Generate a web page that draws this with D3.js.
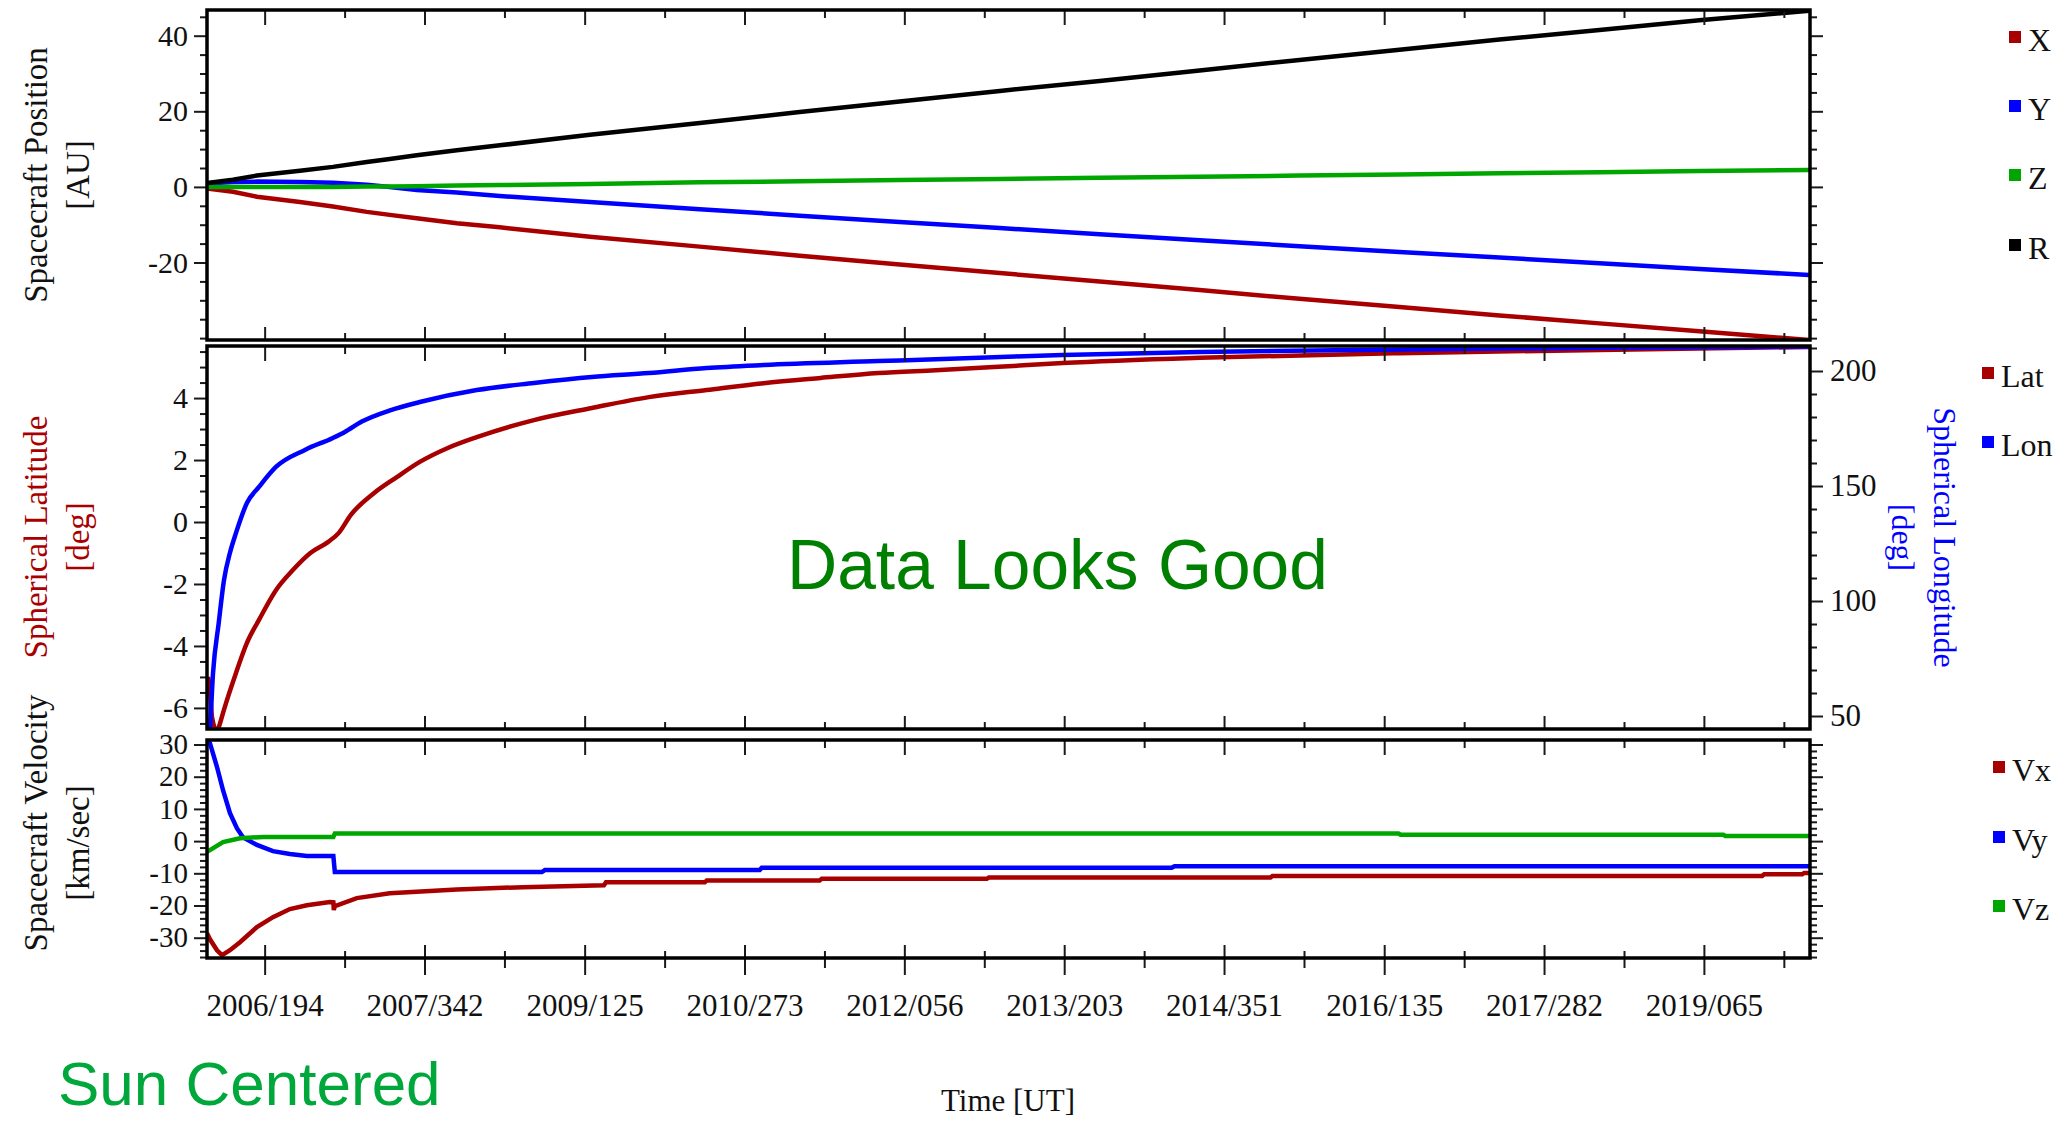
<!DOCTYPE html>
<html>
<head>
<meta charset="utf-8">
<script src="https://cdn.jsdelivr.net/npm/d3@7"></script>
<style>
    body { margin: 0; background: #fff; }
    svg { display: block; }
</style>
</head>
<body>
<div id="chart"></div>
<script>

// ---------- data (time in decimal years) ----------

let xTickLabels = ["2006/194", "2007/342", "2009/125", "2010/273", "2012/056",
                   "2013/203", "2014/351", "2016/135", "2017/282", "2019/065"];

// panel 1: spacecraft position [AU]
let posNames = ["X", "Y", "Z", "R"];
let posTicks = [40, 20, 0, -20];
let posTimes = [2006.022, 2006.250, 2006.461, 2006.839, 2007.129, 2007.427, 2007.629, 2007.866,
                2008.218, 2008.595, 2009.386, 2010.352, 2011.230, 2012.109, 2012.987, 2013.865,
                2014.744, 2015.622, 2016.500, 2017.378, 2018.257, 2019.135, 2020.101];
let posX = [-0.4, -1.3, -2.6, -4.0, -5.2, -6.6, -7.4, -8.3, -9.6, -10.7, -13.2, -15.8,
            -18.2, -20.5, -22.8, -25.0, -27.3, -29.6, -31.8, -34.0, -36.1, -38.2, -40.5];
let posY = [0.9, 1.3, 1.4, 1.3, 1.1, 0.6, 0.0, -0.8, -1.5, -2.4, -4.0, -5.9,
            -7.6, -9.3, -10.9, -12.5, -14.1, -15.7, -17.2, -18.7, -20.2, -21.7, -23.3];
let posZ = [0.0, 0.0, 0.0, 0.0, 0.0, 0.1, 0.1, 0.2, 0.4, 0.5, 0.8, 1.2,
            1.5, 1.8, 2.1, 2.4, 2.7, 3.0, 3.3, 3.6, 3.9, 4.2, 4.5];
let posR = [1.0, 1.9, 3.0, 4.3, 5.3, 6.6, 7.4, 8.4, 9.7, 11.0, 13.8, 16.9,
            19.8, 22.6, 25.4, 28.0, 30.8, 33.6, 36.3, 39.0, 41.5, 44.1, 46.6];

// panel 2: spherical latitude / longitude [deg]
let angleNames = ["Lat", "Lon"];
let latTicks = [4, 2, 0, -2, -4, -6];
let lonTicks = [200, 150, 100, 50];
let latTimes = [2006.031, 2006.048, 2006.066, 2006.110, 2006.136, 2006.171, 2006.277, 2006.373,
                2006.479, 2006.628, 2006.777, 2006.931, 2007.085, 2007.181, 2007.287, 2007.489,
                2007.691, 2007.893, 2008.139, 2008.393, 2008.894, 2009.403, 2009.904, 2010.413,
                2010.914, 2011.414, 2011.924, 2012.425, 2012.934, 2013.540, 2014.744, 2016.500,
                2018.257, 2020.101];
let latValues = [-5.0, -5.4, -6.3, -6.75, -6.5, -6.06, -4.87, -3.9, -3.16, -2.2, -1.55, -1.0,
                 -0.65, -0.35, 0.23, 0.93, 1.45, 1.94, 2.39, 2.74, 3.29, 3.68, 4.03, 4.26,
                 4.48, 4.65, 4.81, 4.9, 5.0, 5.13, 5.3, 5.45, 5.55, 5.65];
let lonTimes = [2006.026, 2006.048, 2006.075, 2006.125, 2006.171, 2006.224, 2006.277, 2006.373,
                2006.479, 2006.628, 2006.883, 2007.129, 2007.234, 2007.383, 2007.638, 2007.893,
                2008.393, 2008.894, 2009.403, 2009.904, 2010.413, 2010.914, 2011.924, 2012.934,
                2013.540, 2014.744, 2016.500, 2018.257, 2020.101];
let lonValues = [38, 45, 68.7, 90.4, 109, 121, 129.6, 142.6, 149.6, 158.3, 165.7, 170.9,
                 173.5, 178, 183, 186.5, 191.7, 194.8, 197.4, 199.1, 201.3, 202.6, 204.3, 206,
                 207, 208.3, 209.4, 210.1, 210.6];

// panel 3: spacecraft velocity [km/sec]
let velNames = ["Vx", "Vy", "Vz"];
let velTicks = [30, 20, 10, 0, -10, -20, -30];
let vxTimes = [2006.022, 2006.048, 2006.110, 2006.154, 2006.224, 2006.312, 2006.461, 2006.602,
               2006.751, 2006.900, 2007.102, 2007.133, 2007.137, 2007.146, 2007.339, 2007.629,
               2008.218, 2008.797, 2009.509, 2009.527, 2010.396, 2010.414, 2011.406, 2011.424,
               2012.873, 2012.891, 2015.367, 2015.385, 2019.688, 2019.706, 2020.040, 2020.057,
               2020.101];
let vxValues = [-28.6, -30.5, -33.9, -35.4, -33.9, -31.4, -26.7, -23.6, -21.1, -19.9, -18.9,
                -19.0, -21.4, -20.2, -17.7, -16.2, -15.0, -14.3, -13.7, -12.8, -12.8, -12.2,
                -12.2, -11.7, -11.7, -11.3, -11.3, -10.8, -10.8, -10.3, -10.3, -9.9, -9.9];
let vyTimes = [2006.022, 2006.048, 2006.110, 2006.163, 2006.224, 2006.285, 2006.338, 2006.461,
               2006.602, 2006.751, 2006.900, 2007.133, 2007.146, 2008.964, 2008.990, 2010.879,
               2010.897, 2014.498, 2014.524, 2020.101];
let vyValues = [31.5, 30.4, 23.0, 15.8, 8.7, 4.0, 1.2, -1.2, -3.1, -4.0, -4.6, -4.6, -9.6,
                -9.6, -9.0, -9.0, -8.3, -8.3, -7.8, -7.8];
let vzTimes = [2006.022, 2006.048, 2006.163, 2006.312, 2006.514, 2007.133, 2007.146, 2016.491,
               2016.509, 2019.346, 2019.363, 2020.101];
let vzValues = [-3.3, -2.8, -0.3, 0.9, 1.3, 1.3, 2.4, 2.4, 2.0, 2.0, 1.6, 1.6];


// ---------- layout ----------

const RED = "#a80000", BLUE = "#0000ff", GREEN = "#00a600", BLACK = "#000000";
const LEFT = 207, RIGHT = 1810;
const SERIF = "'Liberation Serif', 'Times New Roman', serif";
const SANS = "'Liberation Sans', Arial, sans-serif";

let svg = d3.select("#chart").append("svg")
    .attr("width", 2071)
    .attr("height", 1121);

// decimal year -> Date
function toDate(t) {
    let yr = Math.floor(t);
    let a = Date.UTC(yr, 0, 1), b = Date.UTC(yr + 1, 0, 1);
    return new Date(a + (t - yr) * (b - a));
}

let parseDoy = d3.utcParse("%Y/%j");
let fmtDoy = d3.utcFormat("%Y/%j");

let x = d3.scaleUtc()
    .domain([toDate(2006.022), toDate(2020.108)])
    .range([LEFT, RIGHT]);

let xMajor = xTickLabels.map(s => parseDoy(s));
let xStep = (xMajor[xMajor.length - 1] - xMajor[0]) / (xMajor.length - 1);
let xMinor = xMajor.map(d => new Date(+d + xStep / 2)).filter(d => d < x.domain()[1]);

function series(times, values, color, name, side, smooth) {
    return {
        pts: times.map((t, i) => ({ date: toDate(t), v: values[i] })),
        color: color, name: name, side: side || "left", smooth: !!smooth
    };
}

let panels = [
    {
        id: 1, top: 10, bottom: 340, domain: [-40.5, 46.8], ticks: posTicks, minor: 5, fontSize: 30,
        title: ["Spacecraft Position", "[AU]"], titleY: [175, 175], titleColor: "#111",
        series: [series(posTimes, posX, RED, posNames[0]), series(posTimes, posY, BLUE, posNames[1]),
                 series(posTimes, posZ, GREEN, posNames[2]), series(posTimes, posR, BLACK, posNames[3])],
        legendX: 2009, legendY: [37, 106, 175, 245]
    },
    {
        id: 2, top: 346, bottom: 729, domain: [-6.68, 5.68], ticks: latTicks, minor: 0.5, fontSize: 30,
        rightDomain: [44.35, 210.87], rightTicks: lonTicks, rightMinor: 10,
        title: ["Spherical Latitude", "[deg]"], titleY: [537, 537], titleColor: RED,
        rightTitle: ["Spherical Longitude", "[deg]"],
        series: [series(latTimes, latValues, RED, angleNames[0], "left", true),
                 series(lonTimes, lonValues, BLUE, angleNames[1], "right", true)],
        legendX: 1982, legendY: [373, 442]
    },
    {
        id: 3, top: 740, bottom: 958, domain: [-36.3, 31.4], ticks: velTicks, minor: 2, fontSize: 29,
        title: ["Spacecraft Velocity", "[km/sec]"], titleY: [823, 843], titleColor: "#111",
        series: [series(vxTimes, vxValues, RED, velNames[0]), series(vyTimes, vyValues, BLUE, velNames[1]),
                 series(vzTimes, vzValues, GREEN, velNames[2])],
        legendX: 1993, legendY: [767, 837, 906],
        xLabels: true
    }
];

function styleAxis(g, fontSize) {
    g.select(".domain").remove();
    g.attr("font-family", SERIF).attr("font-size", fontSize);
    g.selectAll(".tick line").attr("stroke", "#1a1a1a").attr("stroke-width", 2);
    g.selectAll(".tick text").attr("fill", "#111");
}

function minorValues(domain, step, majors) {
    let lo = Math.ceil(domain[0] / step) * step;
    return d3.range(lo, domain[1], step).filter(v => !majors.some(m => Math.abs(m - v) < 1e-6));
}

function drawPanel(p) {
    let g = svg.append("g").attr("class", "panel-" + p.id);

    let y = d3.scaleLinear().domain(p.domain).range([p.bottom, p.top]);
    let yR = p.rightDomain ? d3.scaleLinear().domain(p.rightDomain).range([p.bottom, p.top]) : null;

    let clipId = "clip" + p.id;
    svg.append("clipPath").attr("id", clipId)
        .append("rect")
        .attr("x", LEFT).attr("y", p.top)
        .attr("width", RIGHT - LEFT).attr("height", p.bottom - p.top);

    // lines
    p.series.forEach(s => {
        let sc = s.side === "right" ? yR : y;
        g.append("path")
            .datum(s.pts)
            .attr("clip-path", "url(#" + clipId + ")")
            .attr("fill", "none")
            .attr("stroke", s.color)
            .attr("stroke-width", 4.5)
            .attr("d", d3.line()
                .curve(s.smooth ? d3.curveMonotoneX : d3.curveLinear)
                .x(d => x(d.date)).y(d => sc(d.v)));
    });

    // left axis: labelled majors + minors
    g.append("g").attr("transform", "translate(" + LEFT + ",0)")
        .call(d3.axisLeft(y).tickValues(p.ticks).tickSize(13).tickPadding(6).tickFormat(d => String(d)))
        .call(a => styleAxis(a, p.fontSize));
    g.append("g").attr("transform", "translate(" + LEFT + ",0)")
        .call(d3.axisLeft(y).tickValues(minorValues(p.domain, p.minor, p.ticks)).tickSize(7).tickFormat(""))
        .call(a => styleAxis(a, p.fontSize));

    // right axis
    if (yR) {
        g.append("g").attr("transform", "translate(" + RIGHT + ",0)")
            .call(d3.axisRight(yR).tickValues(p.rightTicks).tickSize(13).tickPadding(7).tickFormat(d => String(d)))
            .call(a => styleAxis(a, 31));
        g.append("g").attr("transform", "translate(" + RIGHT + ",0)")
            .call(d3.axisRight(yR).tickValues(minorValues(p.rightDomain, p.rightMinor, p.rightTicks)).tickSize(7).tickFormat(""))
            .call(a => styleAxis(a, 31));
    } else {
        g.append("g").attr("transform", "translate(" + RIGHT + ",0)")
            .call(d3.axisRight(y).tickValues(p.ticks).tickSize(13).tickFormat(""))
            .call(a => styleAxis(a, p.fontSize));
        g.append("g").attr("transform", "translate(" + RIGHT + ",0)")
            .call(d3.axisRight(y).tickValues(minorValues(p.domain, p.minor, p.ticks)).tickSize(7).tickFormat(""))
            .call(a => styleAxis(a, p.fontSize));
    }

    // time ticks pointing into the panel, top and bottom
    g.append("g").attr("transform", "translate(0," + p.top + ")")
        .call(d3.axisBottom(x).tickValues(xMajor).tickSize(15).tickFormat(""))
        .call(a => styleAxis(a, 30));
    g.append("g").attr("transform", "translate(0," + p.top + ")")
        .call(d3.axisBottom(x).tickValues(xMinor).tickSize(8).tickFormat(""))
        .call(a => styleAxis(a, 30));
    g.append("g").attr("transform", "translate(0," + p.bottom + ")")
        .call(d3.axisTop(x).tickValues(xMajor).tickSize(13).tickFormat(""))
        .call(a => styleAxis(a, 30));
    g.append("g").attr("transform", "translate(0," + p.bottom + ")")
        .call(d3.axisTop(x).tickValues(xMinor).tickSize(7).tickFormat(""))
        .call(a => styleAxis(a, 30));

    if (p.xLabels) {
        g.append("g").attr("transform", "translate(0," + p.bottom + ")")
            .call(d3.axisBottom(x).tickValues(xMajor).tickSize(17).tickPadding(19).tickFormat(fmtDoy))
            .call(a => styleAxis(a, 31));
        g.append("g").attr("transform", "translate(0," + p.bottom + ")")
            .call(d3.axisBottom(x).tickValues(xMinor).tickSize(10).tickFormat(""))
            .call(a => styleAxis(a, 31));
    }

    // frame
    g.append("rect")
        .attr("x", LEFT).attr("y", p.top)
        .attr("width", RIGHT - LEFT).attr("height", p.bottom - p.top)
        .attr("fill", "none")
        .attr("stroke", "#000")
        .attr("stroke-width", 3.5);

    // left title (two lines, rotated)
    [47, 89].forEach((tx, i) => {
        g.append("text")
            .attr("transform", "translate(" + tx + "," + p.titleY[i] + ") rotate(-90)")
            .attr("text-anchor", "middle")
            .attr("font-family", SERIF)
            .attr("font-size", 33)
            .attr("fill", p.titleColor)
            .text(p.title[i]);
    });

    if (p.rightTitle) {
        [1934, 1892].forEach((tx, i) => {
            g.append("text")
                .attr("transform", "translate(" + tx + "," + ((p.top + p.bottom) / 2) + ") rotate(90)")
                .attr("text-anchor", "middle")
                .attr("font-family", SERIF)
                .attr("font-size", 32)
                .attr("fill", BLUE)
                .text(p.rightTitle[i]);
        });
    }

    // legend
    p.series.forEach((s, i) => {
        g.append("rect")
            .attr("x", p.legendX)
            .attr("y", p.legendY[i] - 6)
            .attr("width", 12).attr("height", 12)
            .attr("fill", s.color);
        g.append("text")
            .attr("x", p.legendX + 19)
            .attr("y", p.legendY[i] + 14)
            .attr("font-family", SERIF)
            .attr("font-size", 32)
            .attr("fill", "#111")
            .text(s.name);
    });
}

panels.forEach(drawPanel);

// free text
svg.append("text")
    .attr("x", 1008).attr("y", 1111)
    .attr("text-anchor", "middle")
    .attr("font-family", SERIF).attr("font-size", 31)
    .attr("fill", "#111")
    .text("Time [UT]");

svg.append("text")
    .attr("x", 787).attr("y", 589)
    .attr("font-family", SANS).attr("font-size", 69.5)
    .attr("fill", "#008000")
    .text("Data Looks Good");

svg.append("text")
    .attr("x", 58).attr("y", 1105)
    .attr("font-family", SANS).attr("font-size", 62)
    .attr("fill", "#00a83c")
    .text("Sun Centered");

</script>
</body>
</html>
